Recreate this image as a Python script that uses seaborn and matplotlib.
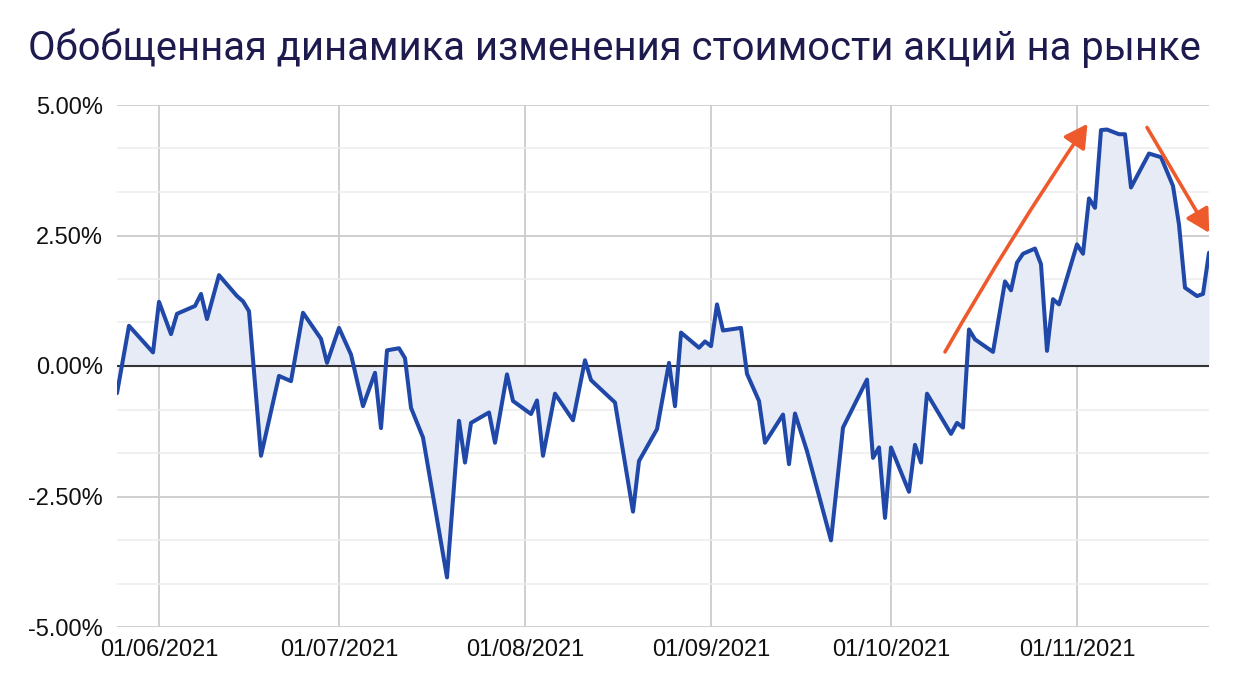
import pandas as pd
import numpy as np
import matplotlib
matplotlib.use("Agg")
import matplotlib.pyplot as plt
import matplotlib.dates as mdates
from matplotlib.ticker import MultipleLocator, AutoMinorLocator, FuncFormatter
import seaborn as sns

# values (% change)
dates = ["2021-05-25", "2021-05-27", "2021-05-31", "2021-06-01", "2021-06-03", "2021-06-04",
         "2021-06-07", "2021-06-08", "2021-06-09", "2021-06-11", "2021-06-14", "2021-06-15",
         "2021-06-16", "2021-06-18", "2021-06-21", "2021-06-23", "2021-06-25", "2021-06-28",
         "2021-06-29", "2021-07-01", "2021-07-03", "2021-07-05", "2021-07-07", "2021-07-08",
         "2021-07-09", "2021-07-11", "2021-07-12", "2021-07-13", "2021-07-15", "2021-07-19",
         "2021-07-21", "2021-07-22", "2021-07-23", "2021-07-26", "2021-07-27", "2021-07-29",
         "2021-07-30", "2021-08-02", "2021-08-03", "2021-08-04", "2021-08-06", "2021-08-09",
         "2021-08-11", "2021-08-12", "2021-08-16", "2021-08-19", "2021-08-20", "2021-08-23",
         "2021-08-25", "2021-08-26", "2021-08-27", "2021-08-30", "2021-08-31", "2021-09-01",
         "2021-09-02", "2021-09-03", "2021-09-06", "2021-09-07", "2021-09-09", "2021-09-10",
         "2021-09-13", "2021-09-14", "2021-09-15", "2021-09-17", "2021-09-21", "2021-09-23",
         "2021-09-27", "2021-09-28", "2021-09-29", "2021-09-30", "2021-10-01", "2021-10-04",
         "2021-10-05", "2021-10-06", "2021-10-07", "2021-10-11", "2021-10-12", "2021-10-13",
         "2021-10-14", "2021-10-15", "2021-10-18", "2021-10-20", "2021-10-21", "2021-10-22",
         "2021-10-23", "2021-10-25", "2021-10-26", "2021-10-27", "2021-10-28", "2021-10-29",
         "2021-11-01", "2021-11-02", "2021-11-03", "2021-11-04", "2021-11-05", "2021-11-06",
         "2021-11-08", "2021-11-09", "2021-11-10", "2021-11-13", "2021-11-15", "2021-11-17",
         "2021-11-18", "2021-11-19", "2021-11-21", "2021-11-22", "2021-11-23"]
change = [-0.52, 0.77, 0.26, 1.23, 0.61, 1.00,
          1.15, 1.38, 0.90, 1.74, 1.34, 1.24,
          1.05, -1.72, -0.19, -0.29, 1.02, 0.52,
          0.06, 0.73, 0.22, -0.77, -0.13, -1.19,
          0.30, 0.34, 0.15, -0.80, -1.37, -4.05,
          -1.05, -1.85, -1.09, -0.89, -1.47, -0.16,
          -0.67, -0.92, -0.66, -1.72, -0.53, -1.04,
          0.11, -0.27, -0.70, -2.79, -1.82, -1.21,
          0.06, -0.77, 0.64, 0.35, 0.47, 0.38,
          1.18, 0.68, 0.73, -0.15, -0.67, -1.47,
          -0.93, -1.88, -0.91, -1.63, -3.34, -1.18,
          -0.26, -1.76, -1.56, -2.91, -1.56, -2.41,
          -1.51, -1.85, -0.53, -1.30, -1.09, -1.18,
          0.70, 0.51, 0.27, 1.62, 1.45, 1.98,
          2.15, 2.25, 1.95, 0.29, 1.28, 1.18,
          2.33, 2.15, 3.21, 3.03, 4.52, 4.53,
          4.44, 4.44, 3.42, 4.07, 4.00, 3.45,
          2.71, 1.50, 1.34, 1.38, 2.17]

title = "Обобщенная динамика изменения стоимости акций на рынке"
x_start, x_end = "2021-05-25", "2021-11-23"
# trend arrows (annotation only): (date, value) start -> end
arrow_up = (("2021-10-10", 0.27), ("2021-11-02 18:00", 4.64))
arrow_down = (("2021-11-12 16:00", 4.57), ("2021-11-23 01:00", 2.55))

df = pd.DataFrame({"date": pd.to_datetime(dates), "change": change})

sns.set_theme(style="white")
plt.rcParams['font.family'] = ['Liberation Sans', 'DejaVu Sans']

fig = plt.figure(figsize=(12.4, 6.88), dpi=100)
ax = fig.add_axes([117/1240, 1-627/688, (1209-117)/1240, (627-105)/688])

line_col = "#1f48a8"
ax.fill_between(df["date"], df["change"], 0, color="#e7ebf6", linewidth=0, zorder=1)
sns.lineplot(data=df, x="date", y="change", ax=ax, color=line_col, linewidth=2.9, zorder=4)
ax.lines[-1].set_solid_joinstyle("round")
ax.lines[-1].set_solid_capstyle("round")
ax.axhline(0, color="#333333", linewidth=1.5, zorder=3)

ax.set_xlim(pd.Timestamp(x_start), pd.Timestamp(x_end))
ax.set_ylim(-5, 5)
ax.yaxis.set_major_locator(MultipleLocator(2.5))
ax.yaxis.set_minor_locator(AutoMinorLocator(3))
ax.yaxis.set_major_formatter(FuncFormatter(lambda v, p: f"{v:.2f}%"))
ax.xaxis.set_major_locator(mdates.MonthLocator())
ax.xaxis.set_major_formatter(mdates.DateFormatter("%d/%m/%Y"))

ax.grid(which="major", axis="both", color="#cccccc", linewidth=1.3, zorder=0)
ax.grid(which="minor", axis="y", color="#ececec", linewidth=1.1, zorder=0)
ax.set_axisbelow(True)
for s in ax.spines.values():
    s.set_visible(False)
ax.tick_params(axis="both", which="both", length=0, labelsize=17, colors="#111111")
ax.tick_params(axis="y", pad=10)
ax.tick_params(axis="x", pad=9)
ax.set_xlabel("")
ax.set_ylabel("")

orange = "#ee5a2c"
for (s, e), rad in [(arrow_up, -0.02), (arrow_down, 0.0)]:
    ax.annotate("", xy=(mdates.date2num(pd.Timestamp(e[0])), e[1]),
                xytext=(mdates.date2num(pd.Timestamp(s[0])), s[1]),
                arrowprops=dict(arrowstyle="-|>,head_length=1.0,head_width=0.55", color=orange,
                                lw=2.6, mutation_scale=14, shrinkA=0, shrinkB=0,
                                connectionstyle=f"arc3,rad={rad}"),
                zorder=5, annotation_clip=False)

fig.text(28/1240, 1-48/688, title, fontsize=28.8, color="#1d1a4e", va="center", ha="left",
         family=["Roboto", "DejaVu Sans"])

fig.savefig("out.png", dpi=100)
